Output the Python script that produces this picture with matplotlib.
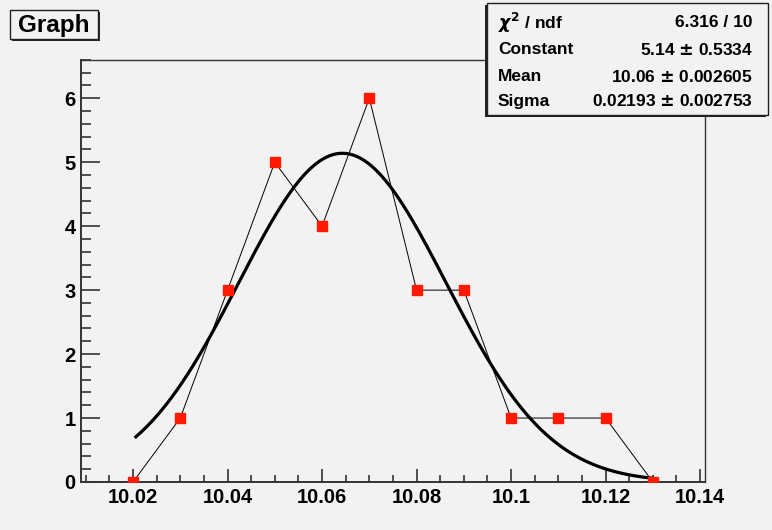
import numpy as np
import matplotlib.pyplot as plt
from matplotlib.patches import Rectangle
from matplotlib.ticker import MultipleLocator, FormatStrFormatter

plt.rcParams['font.family'] = ['Liberation Sans', 'DejaVu Sans']
plt.rcParams['font.weight'] = 'bold'

# data points of the graph
x_pts = [10.02, 10.03, 10.04, 10.05, 10.06, 10.07, 10.08, 10.09, 10.10, 10.11, 10.12, 10.13]
y_pts = [0, 1, 3, 5, 4, 6, 3, 3, 1, 1, 1, 0]

# gaussian fit result
fit_const = 5.14
fit_mean = 10.0643
fit_sigma = 0.02193
stat_names = [r'$\chi^{2}$ / ndf', 'Constant', 'Mean', 'Sigma']
stat_values = ['6.316 / 10', '5.14 $\\pm$ 0.5334', '10.06 $\\pm$ 0.002605', '0.02193 $\\pm$ 0.002753']

bg = '#f2f2f2'
fig = plt.figure(figsize=(7.72, 5.30), dpi=100, facecolor=bg)
ax = fig.add_axes([0.105, 0.0906, 0.808, 0.7964], facecolor=bg)

# fit curve
xf = np.linspace(x_pts[0] + 0.0006, x_pts[-1], 300)
yf = fit_const * np.exp(-0.5 * ((xf - fit_mean) / fit_sigma) ** 2)
ax.plot(xf, yf, color='black', lw=2.3, zorder=2)

ax.plot(x_pts, y_pts, color='black', lw=0.7, zorder=3)
ax.plot(x_pts, y_pts, ls='none', marker='s', ms=7.5, mfc='#ff1a00', mec='#ff1a00', zorder=4)

ax.set_xlim(10.009, 10.141)
ax.set_ylim(0, 6.6)
ax.xaxis.set_major_locator(MultipleLocator(0.02))
ax.xaxis.set_minor_locator(MultipleLocator(0.005))
ax.yaxis.set_major_locator(MultipleLocator(1))
ax.yaxis.set_minor_locator(MultipleLocator(0.2))
ax.xaxis.set_major_formatter(plt.FuncFormatter(lambda v, p: ('%.2f' % v).rstrip('0')))
ax.yaxis.set_major_formatter(FormatStrFormatter('%d'))

ax.tick_params(axis='both', which='both', direction='in', top=False, right=False,
               color='#222222', width=1.1, labelsize=14.5, pad=4)
ax.tick_params(axis='x', which='major', length=9.5)
ax.tick_params(axis='x', which='minor', length=5)
ax.tick_params(axis='y', which='major', length=13.5)
ax.tick_params(axis='y', which='minor', length=7)
for lab in ax.get_xticklabels() + ax.get_yticklabels():
    lab.set_fontweight('bold')
for s in ax.spines.values():
    s.set_color('#333333')
    s.set_linewidth(1.0)
ax.spines['left'].set_linewidth(1.4)
ax.spines['bottom'].set_linewidth(1.4)

# title box
fig.patches.append(Rectangle((0.016, 0.922), 0.114, 0.055, transform=fig.transFigure,
                             facecolor='#222222', edgecolor='none', zorder=5))
fig.patches.append(Rectangle((0.013, 0.926), 0.114, 0.055, transform=fig.transFigure,
                             facecolor=bg, edgecolor='#222222', lw=1.0, zorder=6))
fig.text(0.070, 0.952, 'Graph', ha='center', va='center', fontsize=17.5,
         fontweight='bold', zorder=7)

# stats box
fig.patches.append(Rectangle((0.628, 0.779), 0.364, 0.211, transform=fig.transFigure,
                             facecolor='#222222', edgecolor='none', zorder=5))
fig.patches.append(Rectangle((0.631, 0.783), 0.364, 0.211, transform=fig.transFigure,
                             facecolor=bg, edgecolor='#222222', lw=1.0, zorder=6))
rows_y = [0.957, 0.906, 0.855, 0.809]
for yy, name, val in zip(rows_y, stat_names, stat_values):
    fig.text(0.645, yy, name, ha='left', va='center', fontsize=12.5, fontweight='bold', zorder=7)
    fig.text(0.975, yy, val, ha='right', va='center', fontsize=12.5, fontweight='bold', zorder=7)

fig.savefig('out.png', dpi=100, facecolor=bg)
